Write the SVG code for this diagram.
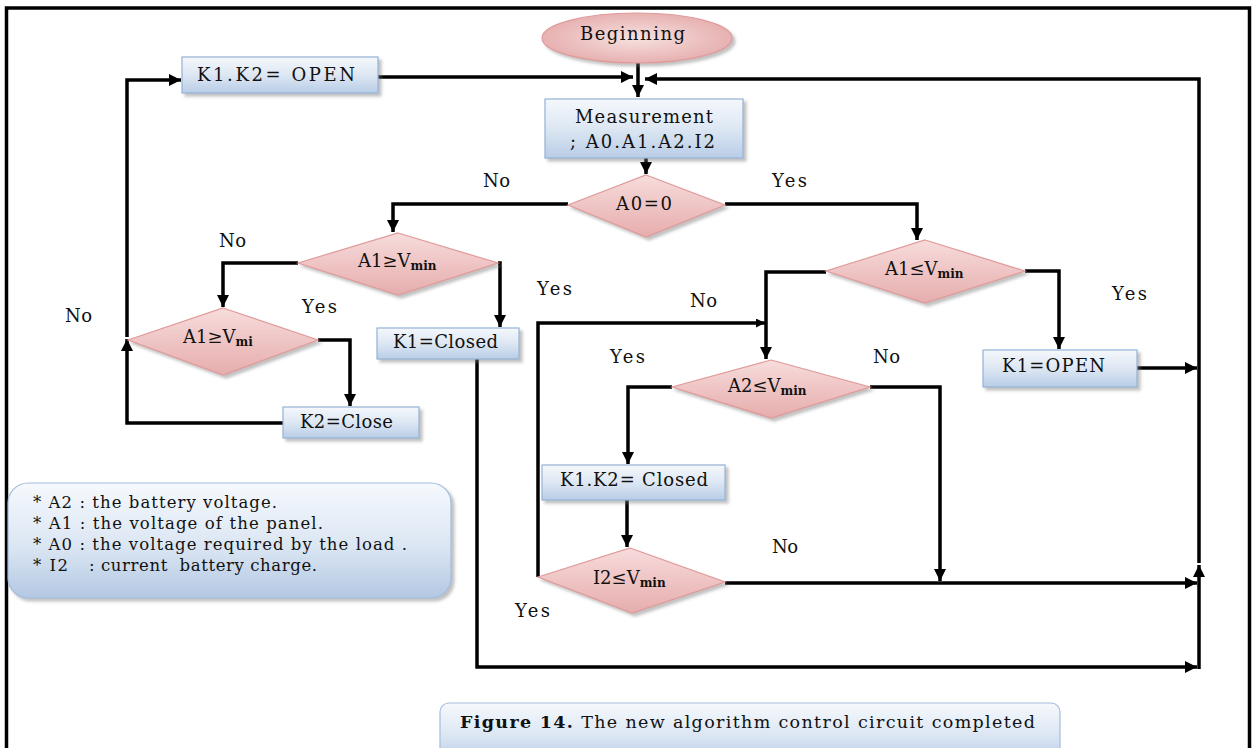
<svg xmlns="http://www.w3.org/2000/svg" width="1252" height="748" viewBox="0 0 1252 748">
<defs>
<linearGradient id="pink" x1="0" y1="0" x2="0" y2="1">
<stop offset="0" stop-color="#f7dcdc"/>
<stop offset="0.5" stop-color="#efc4c4"/>
<stop offset="1" stop-color="#e6adad"/>
</linearGradient>
<radialGradient id="pinkE" cx="0.5" cy="0.5" r="0.6">
<stop offset="0" stop-color="#f7e1e1"/>
<stop offset="1" stop-color="#e4a7a7"/>
</radialGradient>
<linearGradient id="blue" x1="0" y1="0" x2="0" y2="1">
<stop offset="0" stop-color="#f5f8fc"/>
<stop offset="0.5" stop-color="#dde7f3"/>
<stop offset="1" stop-color="#b8cde7"/>
</linearGradient>
<linearGradient id="blueL" x1="0" y1="0" x2="0" y2="1">
<stop offset="0" stop-color="#f6f9fd"/>
<stop offset="0.55" stop-color="#dbe6f3"/>
<stop offset="1" stop-color="#b3c8e3"/>
</linearGradient>
<filter id="sh" x="-10%" y="-20%" width="130%" height="150%">
<feDropShadow dx="3" dy="3" stdDeviation="1.5" flood-color="#777" flood-opacity="0.45"/>
</filter>
<marker id="ah" viewBox="0 0 10 10" refX="10" refY="5" markerWidth="12" markerHeight="12" markerUnits="userSpaceOnUse" orient="auto">
<path d="M0,0 L10,5 L0,10 Z" fill="#000"/>
</marker>
<marker id="ahs" viewBox="0 0 10 10" refX="10" refY="5" markerWidth="9" markerHeight="9" markerUnits="userSpaceOnUse" orient="auto">
<path d="M0,0 L10,5 L0,10 Z" fill="#000"/>
</marker>
</defs>
<style>
.t{font-family:"DejaVu Serif","Liberation Serif",serif;font-size:18px;fill:#111}
.lb{font-family:"DejaVu Serif","Liberation Serif",serif;font-size:16.5px;fill:#111;white-space:pre}
.cap{font-family:"DejaVu Serif","Liberation Serif",serif;font-size:17.5px;fill:#111}
.sub{font-size:12px;font-weight:bold}
.box{fill:url(#blue);stroke:#94b2d6;stroke-width:1.2}
.dia{fill:url(#pink);stroke:#e09a9a;stroke-width:1.2}
.c{fill:none;stroke:#000;stroke-width:3.5;stroke-linejoin:miter}
.c path{marker-end:url(#ah)}
</style>
<rect width="1252" height="748" fill="#fff"/>
<rect x="6.5" y="8" width="1243" height="800" fill="none" stroke="#000" stroke-width="3.5"/>

<g id="connectors" class="c">
<path d="M638,63 L638,97"/>
<path d="M378,77 L633,77"/>
<path d="M1199,563 L1199,79 L645,79"/>
<path d="M646,158 L646,174"/>
<path d="M568,204 L393,204 L393,232"/>
<path d="M725,204 L917,204 L917,240"/>
<path d="M298,263 L223,263 L223,307"/>
<path d="M498,263 L500,263 L500,327"/>
<path d="M318,340 L350,340 L350,406"/>
<path d="M283,423 L127,423 L127,339"/>
<path d="M127,337 L127,80 L181,80"/>
<path d="M477,359 L477,667 L1197,667"/>
<path d="M1199,669 L1199,565"/>
<path d="M1025,271 L1059,271 L1059,349"/>
<path d="M1137,368 L1197,368"/>
<path d="M826,272 L766,272 L766,359"/>
<path d="M538,577 L538,323 L765,323" style="marker-end:url(#ahs)"/>
<path d="M672,387 L628,387 L628,464"/>
<path d="M870,387 L940,387 L940,581"/>
<path d="M627,500 L627,547"/>
<path d="M725,583 L1197,583"/>
</g>

<g id="beginning">
<ellipse cx="637" cy="38" rx="95" ry="25" fill="url(#pinkE)" stroke="#e09a9a" stroke-width="1.2" filter="url(#sh)"/>
<text class="t" x="580" y="40" textLength="105">Beginning</text>
</g>
<g id="k1k2open">
<rect class="box" x="182" y="57" width="196" height="36" filter="url(#sh)"/>
<text class="t" x="197" y="81" textLength="158">K1.K2= OPEN</text>
</g>
<g id="measurement">
<rect class="box" x="545" y="99" width="198" height="59" filter="url(#sh)"/>
<text class="t" x="575" y="123" textLength="138">Measurement</text>
<text class="t" x="570" y="148" textLength="145">; A0.A1.A2.I2</text>
</g>
<g id="a0">
<polygon class="dia" points="646,175 725,205 646,237 568,205" filter="url(#sh)"/>
<text class="t" x="616" y="210" textLength="56">A0=0</text>
</g>
<g id="a1ge">
<polygon class="dia" points="398,233 498,263 398,295 298,263" filter="url(#sh)"/>
<text class="t" x="358" y="267">A1≥V<tspan class="sub" dy="3">min</tspan></text>
</g>
<g id="a1gemi">
<polygon class="dia" points="223,308 318,340 223,375 128,340" filter="url(#sh)"/>
<text class="t" x="183" y="343">A1≥V<tspan class="sub" dy="3">mi</tspan></text>
</g>
<g id="k2close">
<rect class="box" x="283" y="407" width="136" height="31" filter="url(#sh)"/>
<text class="t" x="300" y="428" textLength="93">K2=Close</text>
</g>
<g id="k1closed">
<rect class="box" x="377" y="328" width="142" height="31" filter="url(#sh)"/>
<text class="t" x="393" y="348" textLength="105">K1=Closed</text>
</g>
<g id="a1le">
<polygon class="dia" points="925,240 1025,271 925,303 826,271" filter="url(#sh)"/>
<text class="t" x="885" y="275">A1≤V<tspan class="sub" dy="3">min</tspan></text>
</g>
<g id="k1open">
<rect class="box" x="983" y="350" width="154" height="37" filter="url(#sh)"/>
<text class="t" x="1002" y="372" textLength="103">K1=OPEN</text>
</g>
<g id="a2le">
<polygon class="dia" points="771,360 870,387 771,418 672,387" filter="url(#sh)"/>
<text class="t" x="728" y="392">A2≤V<tspan class="sub" dy="3">min</tspan></text>
</g>
<g id="k1k2closed">
<rect class="box" x="542" y="465" width="183" height="35" filter="url(#sh)"/>
<text class="t" x="560" y="486" textLength="148">K1.K2= Closed</text>
</g>
<g id="i2le">
<polygon class="dia" points="630,548 725,582 632,613 538,577" filter="url(#sh)"/>
<text class="t" x="593" y="584">I2≤V<tspan class="sub" dy="3">min</tspan></text>
</g>

<g id="labels">
<text class="t" x="483" y="187" textLength="27">No</text>
<text class="t" x="772" y="187" textLength="35">Yes</text>
<text class="t" x="219" y="247" textLength="27">No</text>
<text class="t" x="302" y="313" textLength="35">Yes</text>
<text class="t" x="65" y="322" textLength="27">No</text>
<text class="t" x="537" y="295" textLength="35">Yes</text>
<text class="t" x="1112" y="300" textLength="35">Yes</text>
<text class="t" x="690" y="307" textLength="27">No</text>
<text class="t" x="610" y="363" textLength="35">Yes</text>
<text class="t" x="873" y="363" textLength="27">No</text>
<text class="t" x="772" y="553" textLength="26">No</text>
<text class="t" x="515" y="617" textLength="35">Yes</text>
</g>

<g id="legend">
<rect x="8" y="483" width="443" height="115" rx="20" fill="url(#blueL)" stroke="#a3bcdc" stroke-width="1.2" filter="url(#sh)"/>
<text class="lb" x="33" y="508" textLength="244">* A2 : the battery voltage.</text>
<text class="lb" x="33" y="529" textLength="290">* A1 : the voltage of the panel.</text>
<text class="lb" x="33" y="550" textLength="374">* A0 : the voltage required by the load .</text>
<text class="lb" x="33" y="571" textLength="35">* I2</text>
<text class="lb" x="89" y="571" textLength="228">: current  battery charge.</text>
</g>

<g id="caption">
<rect x="440" y="703" width="620" height="60" rx="9" fill="url(#blueL)" stroke="#a3bcdc" stroke-width="1.2"/>
<text class="cap" x="460" y="728" textLength="575"><tspan font-weight="bold">Figure 14.</tspan> The new algorithm control circuit completed</text>
</g>
</svg>
